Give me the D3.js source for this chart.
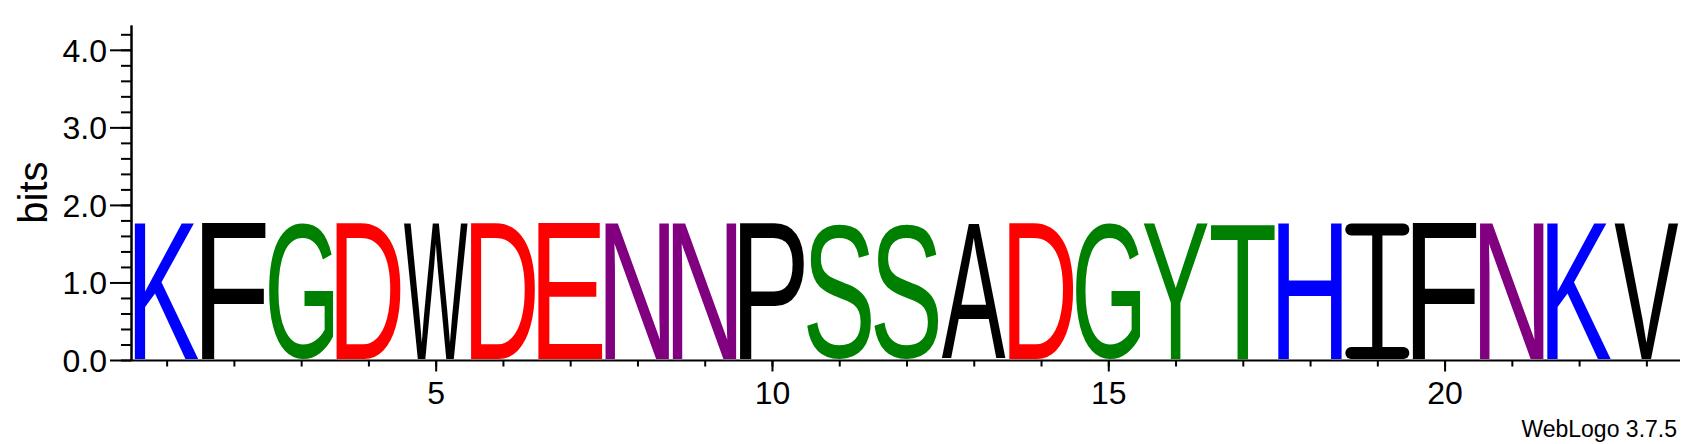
<!DOCTYPE html>
<html lang="en">
<head>
    <title>Sequence logo</title>
    <meta charset="utf-8"/>
    <script src="https://d3js.org/d3.v7.min.js"></script>
    <style>
        body { margin: 0; background: #fff; }
        svg { display: block; }
        text { font-family: "Liberation Sans", Arial, Helvetica, sans-serif; }
    </style>
</head>
<body>

<div id="viz">
    <svg width="1703" height="444"></svg>
</div>

<script type="text/javascript">

    // data
    const residues = ["K", "F", "G", "D", "W", "D", "E", "N", "N", "P", "S", "S",
        "A", "D", "G", "Y", "T", "H", "I", "F", "N", "K", "V"];
    const positions = [1, 2, 3, 4, 5, 6, 7, 8, 9, 10, 11, 12,
        13, 14, 15, 16, 17, 18, 19, 20, 21, 22, 23];
    const bits = [1.76, 1.76, 1.76, 1.76, 1.76, 1.76, 1.76, 1.76, 1.76, 1.76, 1.76, 1.76,
        1.76, 1.76, 1.76, 1.76, 1.76, 1.76, 1.76, 1.76, 1.76, 1.76, 1.76];
    const xTickLabels = [5, 10, 15, 20];
    const yTickLabels = [0, 1, 2, 3, 4];
    const yMax = 4.32;   // log2(20)

    // colour scheme (chemistry)
    const colorOf = {
        G: "#008000", S: "#008000", T: "#008000", Y: "#008000", C: "#008000",
        N: "#800080", Q: "#800080",
        K: "#0000ff", R: "#0000ff", H: "#0000ff",
        D: "#ff0000", E: "#ff0000"
    };
    const letterColor = c => colorOf[c] || "#000000";

    const svg = d3.select("svg");
    const defs = svg.append("defs");
    const axisX = 131, baseY = 360.5;

    let xScale = d3.scaleLinear().domain([0.5, 23.5]).range([133, 1680]);
    let yScale = d3.scaleLinear().domain([0, yMax]).range([360, 25]);
    const step = xScale(2) - xScale(1);
    const pad = 1.6;

    // canvas to measure the ink box of every glyph
    const ctx = document.createElement("canvas").getContext("2d");
    const FS = 200;
    ctx.font = FS + "px 'Liberation Sans', Arial, sans-serif";

    const logo = svg.append("g").attr("id", "letters");

    residues.forEach(function (ch, i) {
        const p = positions[i];
        const x0 = xScale(p) - step / 2 + pad, x1 = xScale(p) + step / 2 - pad;
        const y0 = yScale(bits[i]), y1 = yScale(0) - 1;
        const w = x1 - x0, h = y1 - y0;
        const col = letterColor(ch);

        // clip each glyph to its own stack box
        defs.append("clipPath").attr("id", "clip" + i)
            .attr("clipPathUnits", "userSpaceOnUse")
            .append("rect").attr("x", x0 - 0.5).attr("y", y0 - 0.5)
            .attr("width", w + 1).attr("height", h + 1);
        const cell = logo.append("g").attr("clip-path", "url(#clip" + i + ")");

        if (ch === "I") {
            // serif I with rounded bar ends
            const barH = h * 0.088, stemW = w * 0.16;
            const gI = cell.append("g").attr("fill", col);
            gI.append("rect").attr("x", x0).attr("y", y0).attr("width", w)
                .attr("height", barH).attr("rx", barH / 2);
            gI.append("rect").attr("x", x0).attr("y", y1 - barH).attr("width", w)
                .attr("height", barH).attr("rx", barH / 2);
            gI.append("rect").attr("x", x0 + w / 2 - stemW / 2).attr("y", y0 + barH / 2)
                .attr("width", stemW).attr("height", h - barH);
            return;
        }

        const m = ctx.measureText(ch);
        const inkL = -m.actualBoundingBoxLeft, inkR = m.actualBoundingBoxRight;
        const inkT = -m.actualBoundingBoxAscent, inkB = m.actualBoundingBoxDescent;
        const sx = w / (inkR - inkL), sy = h / (inkB - inkT);

        cell.append("text")
            .attr("transform", "translate(" + x0 + "," + y0 + ") scale(" + sx + "," + sy + ") translate(" + (-inkL) + "," + (-inkT) + ")")
            .attr("x", 0).attr("y", 0)
            .style("font-size", FS + "px")
            .attr("fill", col)
            .text(ch);
    });

    // eje Y
    let yMinor = d3.axisLeft(yScale).tickValues(d3.range(0, 4.3, 0.2))
        .tickSize(10).tickSizeOuter(0).tickFormat("");
    let yMajor = d3.axisLeft(yScale).tickValues(yTickLabels)
        .tickSize(21).tickSizeOuter(0).tickPadding(3).tickFormat(d3.format(".1f"));

    svg.append("g").attr("transform", "translate(" + axisX + ",0)").call(yMinor);
    let yG = svg.append("g").attr("transform", "translate(" + axisX + ",0)").call(yMajor);
    yG.selectAll("text").style("font-size", "32px").attr("dy", "0.36em").attr("fill", "#000");

    // eje X
    let xMinor = d3.axisBottom(xScale).tickValues(positions)
        .tickSize(6).tickSizeOuter(0).tickFormat("");
    let xMajor = d3.axisBottom(xScale).tickValues(xTickLabels)
        .tickSize(11).tickSizeOuter(0).tickPadding(10);

    svg.append("g").attr("class", "xminor").attr("transform", "translate(0," + baseY + ")").call(xMinor);
    let xG = svg.append("g").attr("class", "xmajor").attr("transform", "translate(0," + baseY + ")").call(xMajor);
    xG.selectAll("text").style("font-size", "32px").attr("fill", "#000");
    svg.selectAll(".xminor .domain, .xmajor .domain").remove();

    svg.append("line")
        .attr("x1", axisX - 1).attr("x2", xScale(23.5))
        .attr("y1", baseY).attr("y2", baseY)
        .attr("stroke", "#000").attr("stroke-width", 2);

    svg.selectAll(".tick line").attr("stroke", "#000").attr("stroke-width", 2);
    svg.selectAll(".domain").attr("stroke", "#000").attr("stroke-width", 2);

    // etiquetas
    svg.append("text")
        .attr("transform", "translate(46.5," + ((yScale(0) + yScale(yMax)) / 2) + ") rotate(-90)")
        .attr("text-anchor", "middle")
        .style("font-size", "40px")
        .text("bits");

    svg.append("text")
        .attr("x", 1677).attr("y", 436.5)
        .attr("text-anchor", "end")
        .style("font-size", "23px")
        .text("WebLogo 3.7.5");

</script>
</body>
</html>
